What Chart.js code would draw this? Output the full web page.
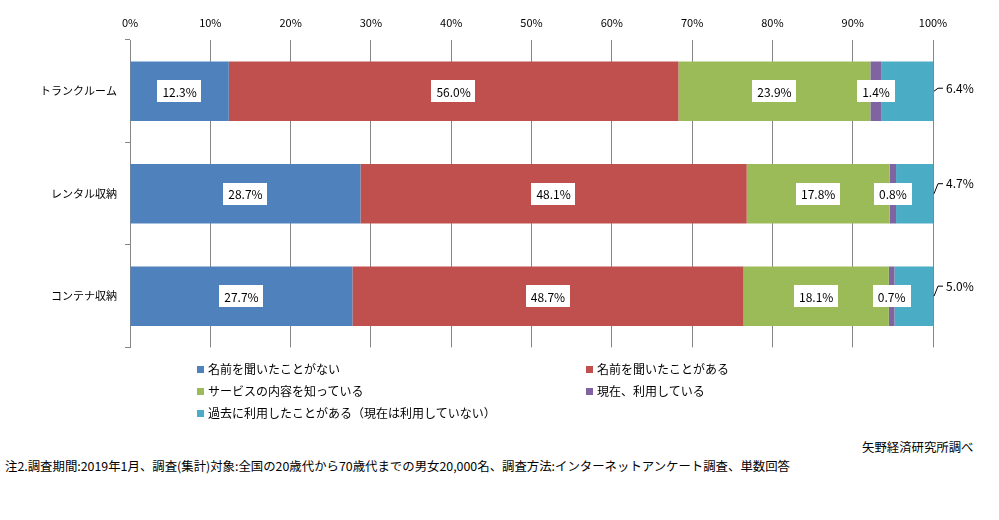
<!DOCTYPE html>
<html>
<head>
<meta charset="utf-8">
<script src="https://cdn.jsdelivr.net/npm/chart.js@4"></script>
<style>
  body { margin: 0; background: #fff; font-family: "Noto Sans CJK JP", "Noto Sans", sans-serif; }
  #wrap { position: relative; width: 999px; height: 520px; overflow: hidden; }
  #chart { position: absolute; left: 0; top: 0; }
  .lg { position: absolute; font-size: 12px; line-height: 16px; color: #000; white-space: nowrap; }
  .lg i { display: inline-block; width: 7px; height: 7px; margin-right: 4px; vertical-align: 1px; }
  .note { position: absolute; font-size: 12.4px; line-height: 16px; color: #000; white-space: nowrap; }
</style>
</head>
<body>
<div id="wrap">
  <canvas id="chart" width="999" height="362"></canvas>
  <div id="legend"></div>
  <div class="note" style="left:862px; top:439px;">矢野経済研究所調べ</div>
  <div class="note" style="left:5px; top:458px;">注2.調査期間:2019年1月、調査(集計)対象:全国の20歳代から70歳代までの男女20,000名、調査方法:インターネットアンケート調査、単数回答</div>
</div>
<script>
// Data
const categories = ['トランクルーム', 'レンタル収納', 'コンテナ収納'];
const seriesNames = [
  '名前を聞いたことがない',
  '名前を聞いたことがある',
  'サービスの内容を知っている',
  '現在、利用している',
  '過去に利用したことがある（現在は利用していない）'
];
const notHeard = [12.3, 28.7, 27.7];
const heard = [56.0, 48.1, 48.7];
const knowService = [23.9, 17.8, 18.1];
const usingNow = [1.4, 0.8, 0.7];
const usedBefore = [6.4, 4.7, 5.0];
const xTicks = [0, 10, 20, 30, 40, 50, 60, 70, 80, 90, 100];

const colors = ['#4F81BD', '#C0504D', '#9BBB59', '#8064A2', '#4BACC6'];
const values = [notHeard, heard, knowService, usingNow, usedBefore];

Chart.defaults.font.family = '"Noto Sans CJK JP", "Noto Sans", sans-serif';
Chart.defaults.font.size = 12;
Chart.defaults.color = '#000';

// Draw the value labels: white boxes inside, last series outside with a leader line
const labelPlugin = {
  id: 'valueLabels',
  afterDatasetsDraw(chart) {
    const ctx = chart.ctx;
    ctx.save();
    ctx.font = '12px "Noto Sans CJK JP", "Noto Sans", sans-serif';
    ctx.textBaseline = 'middle';
    chart.data.datasets.forEach((ds, di) => {
      const meta = chart.getDatasetMeta(di);
      meta.data.forEach((bar, i) => {
        const txt = ds.data[i].toFixed(1) + '%';
        if (di < 4) {
          const cx = (bar.x + bar.base) / 2;
          const w = ctx.measureText(txt).width + 10;
          ctx.fillStyle = '#fff';
          ctx.fillRect(Math.round(cx - w / 2), Math.round(bar.y - 11), Math.round(w), 22);
          ctx.fillStyle = '#000';
          ctx.textAlign = 'center';
          ctx.fillText(txt, cx, bar.y + 1);
        } else {
          const x0 = chart.chartArea.right + 1;
          const ty = bar.y - (i === 0 ? 3 : 10);
          ctx.strokeStyle = '#000';
          ctx.lineWidth = 1;
          ctx.beginPath();
          ctx.moveTo(x0, bar.y);
          ctx.lineTo(x0 + 4, ty);
          ctx.lineTo(x0 + 9, ty);
          ctx.stroke();
          ctx.fillStyle = '#000';
          ctx.textAlign = 'left';
          ctx.fillText(txt, x0 + 12, ty);
        }
      });
    });
    ctx.restore();
  }
};

new Chart(document.getElementById('chart'), {
  type: 'bar',
  data: {
    labels: categories,
    datasets: values.map((v, k) => ({
      label: seriesNames[k],
      data: v,
      backgroundColor: colors[k],
      borderWidth: 0,
      barPercentage: 0.58,
      categoryPercentage: 1.0
    }))
  },
  options: {
    indexAxis: 'y',
    responsive: false,
    animation: false,
    layout: { padding: { left: 0, right: 66, top: 0, bottom: 5 } },
    plugins: { legend: { display: false }, tooltip: { enabled: false } },
    scales: {
      x: {
        position: 'top',
        stacked: true,
        min: 0,
        max: 100,
        afterBuildTicks: s => { s.ticks = xTicks.map(v => ({ value: v })); },
        ticks: { callback: v => v + '%', padding: 11, font: { size: 11 } },
        grid: { color: '#868686', drawTicks: false },
        border: { display: false },
        afterFit: s => { s.height = 40; }
      },
      y: {
        stacked: true,
        ticks: { padding: 8, font: { size: 11 } },
        grid: { drawOnChartArea: false, offset: true, tickLength: 5, color: '#868686' },
        border: { display: true, color: '#868686' },
        afterFit: s => { s.width = 130; }
      }
    }
  },
  plugins: [labelPlugin]
});

// HTML legend, two columns
const legendPos = [[197, 361], [586, 361], [197, 383], [586, 383], [197, 405]];
const legend = document.getElementById('legend');
seriesNames.forEach((name, k) => {
  const d = document.createElement('div');
  d.className = 'lg';
  d.style.left = legendPos[k][0] + 'px';
  d.style.top = legendPos[k][1] + 'px';
  d.innerHTML = '<i style="background:' + colors[k] + '"></i>' + name;
  legend.appendChild(d);
});
</script>
</body>
</html>
